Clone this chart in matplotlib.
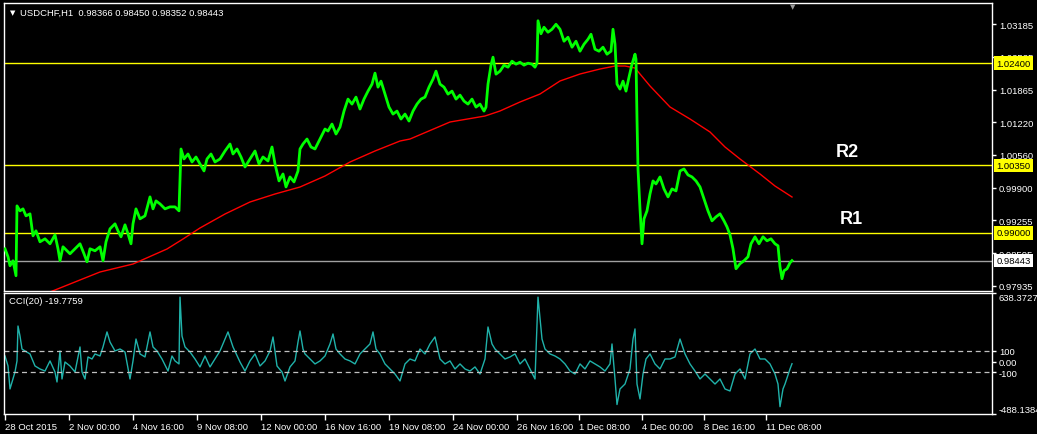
import matplotlib
matplotlib.use('Agg')
import matplotlib.pyplot as plt
from matplotlib.transforms import blended_transform_factory

plt.rcParams['font.family'] = ['Liberation Sans', 'DejaVu Sans']

# (bar index since 28 Oct 2015 on H1, close)
price_pts = [
    (0, 0.9868), (3, 0.9852), (5, 0.9834), (8, 0.9844), (10, 0.9824), (11, 0.9814),
    (12, 0.9954), (15, 0.9944), (18, 0.9948), (21, 0.9934), (25, 0.9938), (28, 0.9894),
    (31, 0.9904), (35, 0.9882), (40, 0.9888), (45, 0.9878), (50, 0.9896), (53, 0.9868),
    (55, 0.9844), (58, 0.9872), (62, 0.9864), (65, 0.9858), (70, 0.9868), (75, 0.9878),
    (79, 0.9858), (82, 0.9842), (85, 0.9868), (90, 0.9864), (95, 0.9872), (98, 0.9844),
    (101, 0.9882), (105, 0.9908), (110, 0.9918), (113, 0.9904), (116, 0.9892), (120, 0.9916),
    (123, 0.9898), (126, 0.9878), (128, 0.9918), (131, 0.9948), (135, 0.9928), (140, 0.9934),
    (145, 0.9972), (148, 0.9948), (151, 0.9964), (155, 0.9958), (160, 0.9948), (165, 0.9952),
    (170, 0.9952), (174, 0.9944), (176, 1.0068), (179, 1.0048), (183, 1.0058), (187, 1.0042),
    (191, 1.0052), (195, 1.0038), (199, 1.0024), (202, 1.0048), (206, 1.0058), (210, 1.0042),
    (215, 1.0048), (220, 1.0064), (225, 1.0078), (228, 1.0058), (232, 1.0068), (236, 1.0052),
    (240, 1.0032), (245, 1.0048), (250, 1.0064), (254, 1.0038), (258, 1.0052), (263, 1.0044),
    (267, 1.0072), (270, 1.0038), (274, 1.0004), (278, 1.0018), (281, 0.9992), (285, 1.0012),
    (289, 1.0002), (293, 1.0024), (295, 1.0068), (298, 1.0078), (302, 1.0088), (306, 1.0072),
    (310, 1.0068), (315, 1.0088), (320, 1.0108), (323, 1.0104), (327, 1.0118), (331, 1.0098),
    (335, 1.0112), (339, 1.0144), (343, 1.0168), (347, 1.0158), (351, 1.0172), (355, 1.0148),
    (359, 1.0168), (363, 1.0184), (367, 1.0198), (370, 1.0220), (373, 1.0192), (376, 1.0204),
    (380, 1.0178), (384, 1.0152), (388, 1.0138), (392, 1.0144), (396, 1.0128), (400, 1.0138),
    (404, 1.0124), (408, 1.0144), (412, 1.0158), (416, 1.0168), (420, 1.0172), (424, 1.0192),
    (428, 1.0208), (431, 1.0224), (435, 1.0198), (439, 1.0192), (443, 1.0178), (447, 1.0184),
    (451, 1.0168), (455, 1.0176), (459, 1.0164), (463, 1.0158), (467, 1.0168), (471, 1.0152),
    (475, 1.0158), (479, 1.0144), (481, 1.0152), (483, 1.0198), (486, 1.0236), (488, 1.0252),
    (491, 1.0218), (495, 1.0224), (499, 1.0236), (503, 1.0232), (507, 1.0244), (511, 1.0238),
    (515, 1.0242), (519, 1.0236), (523, 1.0240), (527, 1.0238), (530, 1.0232), (532, 1.0240),
    (533, 1.0325), (536, 1.0299), (539, 1.0312), (543, 1.0302), (547, 1.0308), (551, 1.0318),
    (555, 1.0308), (559, 1.0284), (563, 1.0292), (567, 1.0272), (571, 1.0284), (575, 1.0264),
    (579, 1.0278), (583, 1.0288), (586, 1.0298), (590, 1.0268), (594, 1.0264), (598, 1.0272),
    (602, 1.0258), (606, 1.0264), (608, 1.0308), (610, 1.0278), (612, 1.0198), (615, 1.0188),
    (618, 1.0204), (621, 1.0184), (624, 1.0212), (627, 1.0238), (630, 1.0258), (631, 1.0248),
    (632, 1.0128), (633, 1.0028), (635, 0.9948), (637, 0.9878), (639, 0.9928), (642, 0.9944),
    (645, 0.9978), (648, 1.0004), (651, 0.9998), (655, 1.0012), (659, 0.9988), (663, 0.9972),
    (667, 0.9988), (671, 0.9984), (675, 1.0024), (679, 1.0028), (683, 1.0016), (687, 1.0012),
    (691, 1.0004), (695, 0.9992), (699, 0.9968), (703, 0.9944), (707, 0.9924), (711, 0.9932),
    (715, 0.9938), (719, 0.9924), (722, 0.9912), (725, 0.9896), (728, 0.9868), (731, 0.9828),
    (735, 0.9838), (739, 0.9844), (743, 0.9852), (746, 0.9878), (750, 0.9892), (754, 0.9878),
    (758, 0.9892), (762, 0.9884), (766, 0.9888), (770, 0.9878), (773, 0.9874), (775, 0.9832),
    (777, 0.9808), (779, 0.9824), (782, 0.9828), (785, 0.9840), (787, 0.98443),
]

# red moving average
ma_pts = [
    (35, 0.97734), (55, 0.97894), (75, 0.98055), (95, 0.98215), (128, 0.98375),
    (162, 0.98676), (178, 0.98876), (195, 0.99097), (220, 0.99377), (245, 0.99618),
    (270, 0.99778), (295, 0.99918), (320, 1.00139), (345, 1.00419), (370, 1.00640),
    (395, 1.00840), (405, 1.00880), (445, 1.01221), (480, 1.01341), (495, 1.01442),
    (515, 1.01622), (535, 1.01782), (555, 1.02043), (575, 1.02183), (595, 1.02283),
    (610, 1.02343), (620, 1.02343), (630, 1.02303), (645, 1.01943), (665, 1.01522),
    (685, 1.01281), (705, 1.01021), (720, 1.00720), (735, 1.00480), (755, 1.00179),
    (770, 0.99938), (787, 0.99718),
]

# CCI(20)
cci_pts = [
    (0, 52), (3, -41), (5, -255), (8, -162), (10, -97), (12, 6), (13, 331), (15, 238),
    (17, 117), (20, 99), (25, 71), (30, -41), (35, -69), (40, -88), (45, 6), (50, -97),
    (52, -190), (55, 99), (57, -162), (60, -4), (65, -41), (70, -97), (75, 136), (77, -97),
    (80, -162), (83, 43), (87, 24), (90, 71), (95, 52), (98, 136), (102, 276), (105, 182),
    (110, 99), (115, 117), (120, 89), (125, -162), (128, 6), (131, 210), (135, 71), (140, 43),
    (145, 276), (148, 136), (152, 99), (157, 24), (163, -88), (167, 52), (170, 6), (174, -22),
    (175, 600), (177, 238), (180, 136), (185, 89), (190, 24), (195, -50), (200, 52), (205, -50),
    (210, 24), (215, 99), (223, 276), (228, 136), (235, -4), (240, -88), (245, 6), (250, 71),
    (255, -41), (260, 6), (265, 99), (268, 229), (272, -41), (277, -97), (280, -181), (285, -50),
    (290, 6), (293, 182), (295, 285), (298, 117), (300, 71), (305, 24), (310, -22), (315, 6),
    (320, 52), (325, 164), (328, 257), (331, 117), (335, 71), (340, 24), (345, 6), (350, -22),
    (355, 71), (360, 117), (365, 164), (368, 276), (371, 117), (375, 71), (380, -22), (385, -69),
    (390, -116), (395, -181), (400, -22), (405, 24), (410, 6), (415, 117), (420, 71), (425, 164),
    (430, 229), (435, 24), (440, -22), (445, 6), (450, -69), (455, -22), (460, -69), (465, -88),
    (470, -50), (475, -116), (480, 24), (483, 322), (487, 164), (490, 117), (495, 71), (500, 24),
    (505, 43), (510, 71), (515, -22), (520, 24), (525, -69), (530, -162), (533, 600), (537, 210),
    (540, 117), (545, 71), (550, 52), (555, 24), (560, -22), (565, -88), (570, -116), (575, -22),
    (580, -69), (585, 6), (590, -22), (595, -50), (600, -88), (605, -22), (607, 164), (610, -162),
    (612, -400), (615, -255), (620, -209), (625, -69), (628, 210), (630, 304), (632, -209),
    (635, -348), (638, -116), (641, 24), (645, 71), (650, -22), (655, -69), (660, 24), (665, 24),
    (670, 43), (675, 210), (680, 71), (685, -22), (690, -88), (695, -162), (700, -116),
    (705, -162), (710, -209), (715, -162), (720, -255), (725, -274), (730, -116), (735, -69),
    (740, -162), (745, 71), (750, 117), (755, 24), (760, 24), (765, -22), (770, -116),
    (773, -209), (775, -420), (778, -255), (780, -209), (785, -69), (787, -20),
]

levels = [1.02400, 1.00350, 0.99000]
level_names = ['R2', 'R1']
bid = 0.98443
price_ticks = [1.03185, 1.02525, 1.01865, 1.01220, 1.00560, 0.99900, 0.99255, 0.98595, 0.97935]
cci_ticks = [638.3727, 100, 0, -100, -488.1384]
cci_tick_labels = ['638.3727', '100', '0.00', '-100', '-488.1384']
time_ticks = [0, 64, 128, 192, 256, 320, 384, 448, 512, 574, 637, 699, 761]
time_labels = ['28 Oct 2015', '2 Nov 00:00', '4 Nov 16:00', '9 Nov 08:00', '12 Nov 00:00',
               '16 Nov 16:00', '19 Nov 08:00', '24 Nov 00:00', '26 Nov 16:00',
               '1 Dec 08:00', '4 Dec 00:00', '8 Dec 16:00', '11 Dec 08:00']

W, H = 1037, 435
fs = 6.8
fig = plt.figure(figsize=(W / 100, H / 100), dpi=100, facecolor='black')

left, right = 4 / W, 992 / W
ax = fig.add_axes([left, 1 - 292 / H, right - left, 288 / H], facecolor='black')
ax2 = fig.add_axes([left, 1 - 415 / H, right - left, 121 / H], facecolor='black')

for a in (ax, ax2):
    for s in a.spines.values():
        s.set_color('white')
        s.set_linewidth(1)
    a.set_xlim(-1, 987)
    a.yaxis.tick_right()
    a.tick_params(axis='y', colors='white', labelsize=fs, length=3, width=1, pad=2)

# main panel
px, py = zip(*price_pts)
mx, my = zip(*ma_pts)
ax.plot(px, py, color='#00ff00', lw=2.0, zorder=3)
ax.plot(mx, my, color='#ff0000', lw=1, zorder=2)
for v in levels:
    ax.axhline(v, color='#ffff00', lw=1, zorder=1)
ax.axhline(bid, color='#a0a0a0', lw=1, zorder=1)
ax.set_ylim(0.97834, 1.03606)
ax.set_yticks(price_ticks)
ax.set_yticklabels(['%.5f' % t for t in price_ticks])
ax.set_xticks([])

tr = blended_transform_factory(ax.transAxes, ax.transData)
for v in levels:
    ax.annotate('%.5f' % v, xy=(1.0, v), xycoords=tr, xytext=(3, 0), textcoords='offset points',
                ha='left', va='center', fontsize=fs, color='black', annotation_clip=False,
                bbox=dict(boxstyle='square,pad=0.25', fc='#ffff00', ec='none'), zorder=10)
ax.annotate('%.5f' % bid, xy=(1.0, bid), xycoords=tr, xytext=(3, 0), textcoords='offset points',
            ha='left', va='center', fontsize=fs, color='black', annotation_clip=False,
            bbox=dict(boxstyle='square,pad=0.25', fc='white', ec='none'), zorder=10)

for name, v, xb in zip(level_names, levels[1:], [831, 835]):
    ax.annotate(name, xy=(xb, v), xytext=(0, 4), textcoords='offset points',
                color='white', fontsize=13, fontweight='bold', va='bottom', ha='left')

# CCI panel
cx, cy = zip(*cci_pts)
ax2.plot(cx, cy, color='#20b2aa', lw=1)
for v in (100, -100):
    ax2.axhline(v, color='#c0c0c0', lw=0.9, ls=(0, (4, 3)))
ax2.set_ylim(-488.1384, 638.3727)
ax2.set_yticks(cci_ticks)
ax2.set_yticklabels(cci_tick_labels)
ylabs = ax2.get_yticklabels()
ylabs[0].set_verticalalignment('top')
ylabs[-1].set_verticalalignment('bottom')

ax2.set_xticks(time_ticks)
ax2.set_xticklabels(time_labels)
ax2.tick_params(axis='x', colors='white', labelsize=fs, length=4, width=1, pad=1.5)
for lab in ax2.get_xticklabels():
    lab.set_horizontalalignment('left')

fig.text(20 / W, 1 - 13 / H, 'USDCHF,H1  0.98366 0.98450 0.98352 0.98443',
         color='white', fontsize=fs, va='center', ha='left')
fig.text(10 / W, 1 - 13 / H, '▼', color='white', fontsize=5, va='center', ha='left',
         family='DejaVu Sans')
fig.text(9 / W, 1 - 302 / H, 'CCI(20) -19.7759', color='white', fontsize=fs,
         va='center', ha='left')
fig.text(793 / W, 1 - 7 / H, '▼', color='#9a9a9a', fontsize=5, va='center', ha='center',
         family='DejaVu Sans')

fig.savefig('out.png', dpi=100, facecolor='black')
